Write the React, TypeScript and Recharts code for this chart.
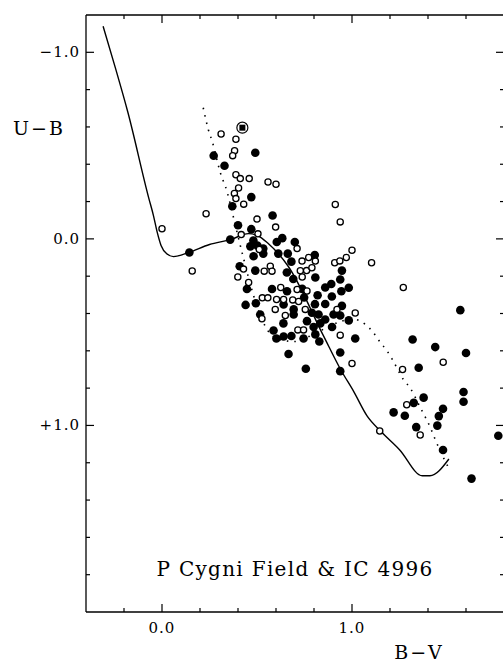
import { ScatterChart, Scatter, XAxis, YAxis } from 'recharts';

// B-V, U-B pairs
const filledStars: [number, number][] = [
  [0.272, -0.446], [0.329, -0.392], [0.491, -0.462], [0.47, -0.224], [0.37, -0.175],
  [0.582, -0.125], [0.4, -0.073], [0.47, -0.052], [0.144, 0.073], [0.359, 0.004],
  [0.481, 0.009], [0.465, 0.04], [0.502, 0.036], [0.533, 0.052], [0.604, 0.017],
  [0.633, -0.004], [0.699, 0.017], [0.482, 0.093], [0.533, 0.079], [0.612, 0.079],
  [0.662, 0.079], [0.681, 0.122], [0.804, 0.087], [0.409, 0.147], [0.491, 0.17],
  [0.657, 0.18], [0.691, 0.215], [0.807, 0.207], [0.947, 0.17], [0.938, 0.218],
  [0.891, 0.242], [0.859, 0.261], [0.983, 0.262], [0.944, 0.281], [0.447, 0.269],
  [0.579, 0.269], [0.658, 0.281], [0.738, 0.268], [0.819, 0.302], [0.748, 0.314],
  [0.894, 0.309], [0.44, 0.354], [0.494, 0.345], [0.64, 0.352], [0.693, 0.378],
  [0.805, 0.35], [0.859, 0.349], [0.947, 0.359], [0.517, 0.405], [0.693, 0.405],
  [0.789, 0.396], [0.824, 0.405], [0.903, 0.405], [0.938, 0.411], [0.983, 0.437],
  [0.639, 0.453], [0.763, 0.441], [0.859, 0.432], [0.798, 0.472], [0.833, 0.453],
  [0.895, 0.472], [0.587, 0.491], [0.602, 0.534], [0.64, 0.523], [0.681, 0.521],
  [0.745, 0.534], [0.807, 0.512], [0.828, 0.55], [1.017, 0.534], [0.666, 0.617],
  [0.757, 0.696], [0.938, 0.609], [0.938, 0.709],
  [1.319, 0.539], [1.438, 0.58], [1.57, 0.382], [1.6, 0.612], [1.351, 0.691],
  [1.587, 0.821], [1.587, 0.873], [1.377, 0.851], [1.325, 0.879], [1.479, 0.911],
  [1.457, 0.95], [1.219, 0.93], [1.278, 0.948], [1.338, 1.009], [1.449, 1.001],
  [1.479, 1.132], [1.629, 1.285], [1.77, 1.055],
];

const openStars: [number, number][] = [
  [0.311, -0.562], [0.389, -0.534], [0.382, -0.473], [0.372, -0.446], [0.389, -0.344],
  [0.412, -0.323], [0.459, -0.323], [0.403, -0.273], [0.381, -0.243], [0.389, -0.216],
  [0.43, -0.186], [0.558, -0.305], [0.6, -0.293], [0.912, -0.184], [0.938, -0.091],
  [0.232, -0.135], [0.5, -0.106], [0.598, -0.063], [0.0, -0.054], [0.417, -0.023],
  [0.505, -0.027], [0.159, 0.172], [0.512, 0.057], [0.711, 0.052], [0.737, 0.119],
  [0.772, 0.1], [0.807, 0.119], [0.909, 0.128], [0.936, 0.118], [0.97, 0.1],
  [1.0, 0.061], [1.103, 0.128], [0.429, 0.162], [0.538, 0.173], [0.57, 0.147],
  [0.579, 0.173], [0.399, 0.204], [0.456, 0.234], [0.728, 0.171], [0.761, 0.17],
  [0.789, 0.155], [0.738, 0.204], [0.625, 0.261], [0.763, 0.279], [0.711, 0.271],
  [0.528, 0.316], [0.557, 0.316], [0.603, 0.325], [0.64, 0.325], [0.688, 0.327],
  [0.719, 0.336], [0.596, 0.378], [0.754, 0.378], [0.921, 0.378], [0.526, 0.428],
  [0.649, 0.411], [1.017, 0.397], [0.715, 0.488], [0.745, 0.488], [0.938, 0.516],
  [1.0, 0.668], [1.27, 0.261], [1.48, 0.661], [1.266, 0.7], [1.288, 0.889],
  [1.359, 1.051], [1.146, 1.03],
];

const pCygni: [number, number][] = [[0.423, -0.596]];

// intrinsic main sequence (solid)
const intrinsicLine: [number, number][] = [
  [-0.31, -1.14], [-0.245, -0.915], [-0.18, -0.68], [-0.07, -0.22], [-0.045, -0.125],
  [-0.025, -0.035], [-0.005, 0.035], [0.025, 0.08], [0.06, 0.095], [0.14, 0.073],
  [0.25, 0.03], [0.36, 0.004], [0.455, -0.028], [0.51, -0.014], [0.555, 0.021],
  [0.665, 0.148], [0.85, 0.52], [0.94, 0.7], [1.01, 0.82], [1.08, 0.95], [1.15, 1.03],
  [1.25, 1.13], [1.37, 1.27], [1.41, 1.27], [1.51, 1.18],
];

// reddened sequence (dotted)
const reddenedLine: [number, number][] = [
  [0.217, -0.703], [0.244, -0.585], [0.265, -0.52], [0.307, -0.355], [0.344, -0.248],
  [0.37, -0.141], [0.428, 0.1], [0.49, 0.33], [0.554, 0.487], [0.62, 0.54],
  [0.7, 0.55], [0.8, 0.51], [0.92, 0.45], [1.0, 0.43], [1.07, 0.458],
  [1.112, 0.502], [1.149, 0.555], [1.186, 0.603], [1.212, 0.646], [1.27, 0.753],
  [1.307, 0.801], [1.359, 0.903], [1.386, 0.956], [1.412, 1.01], [1.433, 1.063],
  [1.48, 1.17], [1.507, 1.224],
];

const bvTicks = [-0.2, 0, 0.2, 0.4, 0.6, 0.8, 1.0, 1.2, 1.4, 1.6];
const ubTicks = [-1.0, -0.8, -0.6, -0.4, -0.2, 0, 0.2, 0.4, 0.6, 0.8, 1.0, 1.2, 1.4, 1.6, 1.8];
const bvLabels: Record<string, string> = { '0': '0.0', '1': '1.0' };
const ubLabels: Record<string, string> = { '-1': '\u22121.0', '0': '0.0', '1': '+1.0' };

const toPts = (arr: [number, number][]) => arr.map(([bv, ub]) => ({ bv, ub }));

const FONT = '"DejaVu Serif", serif';

function makeTick(side: 'top' | 'bottom' | 'left' | 'right', labels?: Record<string, string>) {
  return (props: any) => {
    const { x, y, payload } = props;
    const v = payload.value;
    const major = Math.abs(v - Math.round(v)) < 1e-6;
    const len = major ? 8 : 4;
    let x2 = x, y2 = y;
    if (side === 'bottom') y2 = y - len;
    if (side === 'top') y2 = y + len;
    if (side === 'left') x2 = x + len;
    if (side === 'right') x2 = x - len;
    const key = String(Math.round(v * 10) / 10);
    const label = labels && major ? labels[key] : undefined;
    return (
      <g>
        <line x1={x} y1={y} x2={x2} y2={y2} stroke="#000" strokeWidth={1.2} />
        {label && side === 'bottom' && (
          <text x={x} y={y + 16} textAnchor="middle" dominantBaseline="central"
            fontFamily={FONT} fontSize={15} letterSpacing={1} fill="#000">{label}</text>
        )}
        {label && side === 'left' && (
          <text x={x - 6} y={y} textAnchor="end" dominantBaseline="central"
            fontFamily={FONT} fontSize={15} letterSpacing={1} fill="#000">{label}</text>
        )}
      </g>
    );
  };
}

const FilledDot = (p: any) => <circle cx={p.cx} cy={p.cy} r={4.3} fill="#000" />;
const OpenDot = (p: any) => (
  <circle cx={p.cx} cy={p.cy} r={3.1} fill="#fff" stroke="#000" strokeWidth={1.3} />
);
const PCygDot = (p: any) => (
  <g>
    <circle cx={p.cx} cy={p.cy} r={5.5} fill="#fff" stroke="#000" strokeWidth={1.2} />
    <rect x={p.cx - 3} y={p.cy - 3} width={6} height={6} fill="#000" />
  </g>
);
const NoDot = () => <g />;

export default function App() {
  const axisLine = { stroke: '#000', strokeWidth: 1.3 };
  return (
    <div style={{ position: 'fixed', left: 0, top: 0, width: 503, height: 664, overflow: 'hidden', background: '#fff' }}>
      <ScatterChart width={530} height={664} margin={{ top: 14, right: 25, bottom: 12, left: 26 }}>
        <XAxis dataKey="bv" type="number" domain={[-0.4, 1.8]} ticks={bvTicks} interval={0}
          allowDataOverflow height={40} tickSize={0} tickMargin={0} axisLine={axisLine}
          tickLine={false} tick={makeTick('bottom', bvLabels)} />
        <XAxis xAxisId="top" orientation="top" dataKey="bv" type="number" domain={[-0.4, 1.8]}
          ticks={bvTicks} interval={0} allowDataOverflow height={1} tickSize={0} tickMargin={0}
          axisLine={axisLine} tickLine={false} tick={makeTick('top')} />
        <YAxis dataKey="ub" type="number" domain={[-1.2, 2.0]} reversed ticks={ubTicks} interval={0}
          allowDataOverflow width={60} tickSize={0} tickMargin={0} axisLine={axisLine}
          tickLine={false} tick={makeTick('left', ubLabels)} />
        <YAxis yAxisId="right" orientation="right" dataKey="ub" type="number" domain={[-1.2, 2.0]}
          reversed ticks={ubTicks} interval={0} allowDataOverflow width={1} tickSize={0} tickMargin={0}
          axisLine={axisLine} tickLine={false} tick={makeTick('right')} />
        <Scatter data={toPts(intrinsicLine)} line={{ stroke: '#000', strokeWidth: 1.4 }}
          lineJointType="monotoneX" shape={NoDot} isAnimationActive={false} />
        <Scatter data={toPts(reddenedLine)}
          line={{ stroke: '#000', strokeWidth: 1.6, strokeDasharray: '1.5 6' }}
          lineJointType="monotoneX" shape={NoDot} isAnimationActive={false} />
        <Scatter data={toPts(filledStars)} shape={FilledDot} isAnimationActive={false} />
        <Scatter data={toPts(openStars)} shape={OpenDot} isAnimationActive={false} />
        <Scatter data={toPts(pCygni)} shape={PCygDot} isAnimationActive={false} />
      </ScatterChart>
      <svg width={503} height={664} style={{ position: 'absolute', left: 0, top: 0, pointerEvents: 'none' }}>
        <text x={13} y={128} dominantBaseline="central" fontFamily={FONT} fontSize={19}
          letterSpacing={2} fill="#000">U{'\u2212'}B</text>
        <text x={419} y={652} textAnchor="middle" dominantBaseline="central" fontFamily={FONT}
          fontSize={19} letterSpacing={2} fill="#000">B{'\u2212'}V</text>
        <text x={295} y={569} textAnchor="middle" dominantBaseline="central" fontFamily={FONT}
          fontSize={20} letterSpacing={1.3} fill="#000">P Cygni Field &amp; IC 4996</text>
      </svg>
    </div>
  );
}
